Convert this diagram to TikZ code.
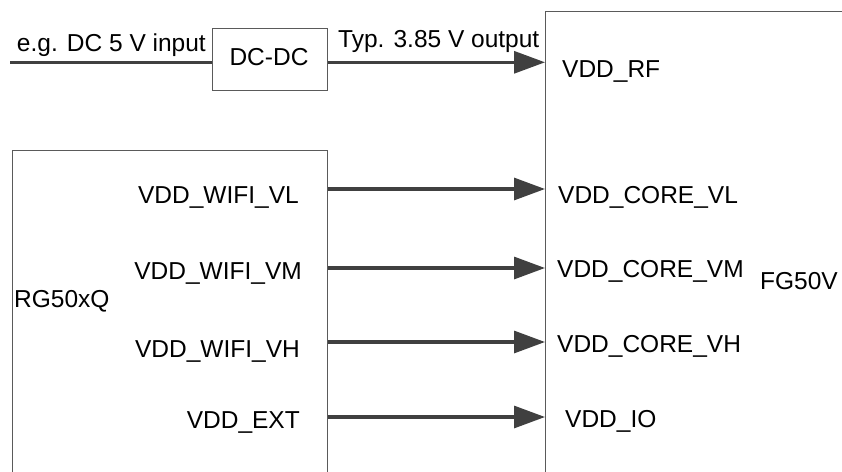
\documentclass[tikz,border=0pt]{standalone}
\usepackage{fontspec}
\setmainfont{Liberation Sans}
\usetikzlibrary{arrows.meta}
\definecolor{boxgray}{HTML}{5A5A5A}
\definecolor{arrgray}{HTML}{404040}
\tikzset{
  blk/.style={draw=boxgray, line width=1pt, rectangle, inner sep=0pt, anchor=north west},
  pwr/.style={draw=arrgray, line width=3.1pt},
  arr/.style={pwr, -{Triangle[length=31pt,width=22pt]}, arrgray},
  lbl/.style={inner sep=0pt, font=\fontsize{24.5}{28}\selectfont, text=black}
}
\begin{document}
\begin{tikzpicture}[x=1pt, y=-1pt]
\useasboundingbox (0,0) rectangle (842,471);
\clip (0,0) rectangle (842,471);
% blocks
\node[blk, minimum width=115pt, minimum height=62.5pt] (dcdc) at (211.5,27.5) {};
\node[blk, minimum width=315pt, minimum height=340pt] (rg) at (12,150) {};
\node[blk, minimum width=320pt, minimum height=480pt] (fg) at (545,11) {};
% coordinates
\coordinate (in) at (10,62.3);
\coordinate (yvl) at (0,189);
\coordinate (yvm) at (0,268);
\coordinate (yvh) at (0,342);
\coordinate (yio) at (0,417);
% connectors
\draw[pwr] (in) -- (in -| dcdc.west);
\draw[arr] (in -| dcdc.east) -- (in -| fg.west);
\draw[arr] (rg.east |- yvl) -- (fg.west |- yvl);
\draw[arr] (rg.east |- yvm) -- (fg.west |- yvm);
\draw[arr] (rg.east |- yvh) -- (fg.west |- yvh);
\draw[arr] (rg.east |- yio) -- (fg.west |- yio);
% texts
\node[lbl, anchor=base] (tdc) at (269,65) {DC-DC};
\node[lbl, anchor=base east] (tin) at (206,51) {e.g. DC 5 V input};
\node[lbl, anchor=base west] (tout) at (338,47) {Typ. 3.85 V output};
\node[lbl, anchor=base west] (trg) at (14,307) {RG50xQ};
\node[lbl, anchor=base east] (tfg) at (838,289) {FG50V};
\node[lbl, anchor=base east] (l1) at (299,203) {VDD\_WIFI\_VL};
\node[lbl, anchor=base east] (l2) at (302,279) {VDD\_WIFI\_VM};
\node[lbl, anchor=base east] (l3) at (300,357) {VDD\_WIFI\_VH};
\node[lbl, anchor=base east] (l4) at (300,428) {VDD\_EXT};
\node[lbl, anchor=base west] (r0) at (562,77) {VDD\_RF};
\node[lbl, anchor=base west] (r1) at (558,203) {VDD\_CORE\_VL};
\node[lbl, anchor=base west] (r2) at (557,277) {VDD\_CORE\_VM};
\node[lbl, anchor=base west] (r3) at (557,352) {VDD\_CORE\_VH};
\node[lbl, anchor=base west] (r4) at (565,427) {VDD\_IO};
\end{tikzpicture}
\end{document}
